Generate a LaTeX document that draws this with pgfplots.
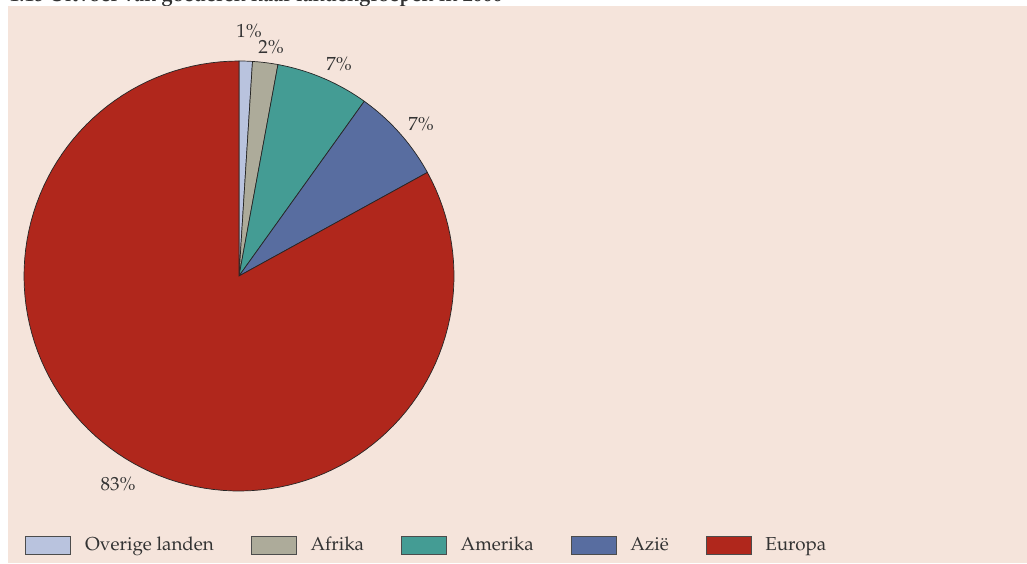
\documentclass[border=0pt]{standalone}
\usepackage[T1]{fontenc}
\usepackage{mathpazo}
\usepackage{pgfplots}
\usepackage{pgfplotstable}
\pgfplotsset{compat=1.18}
\definecolor{bg}{HTML}{F5E4DB}
\definecolor{cOv}{HTML}{B9C3DE}
\definecolor{cAf}{HTML}{ADAB9A}
\definecolor{cAm}{HTML}{449C94}
\definecolor{cAz}{HTML}{586DA0}
\definecolor{cEu}{HTML}{B0271C}
\definecolor{txt}{HTML}{333333}

\pgfplotstableread[col sep=comma]{
name,value,col
Overige landen,1.0,cOv
Afrika,1.9,cAf
Amerika,7.0,cAm
Azi\"e,7.1,cAz
Europa,83.0,cEu
}\piedata

\begin{document}
\begin{tikzpicture}[x=0.5pt,y=0.5pt]
\useasboundingbox (0,0) rectangle (1027,563);
\node[anchor=base west, inner sep=0pt, text=txt, font=\bfseries\fontsize{10}{12}\selectfont] at (9,561) {1.15 Uitvoer van goederen naar landengroepen in 2000};
\fill[bg] (8,0) rectangle (1027,557);
\begin{axis}[
  at={(0,0)}, anchor=south west,
  scale only axis, width=513.5pt, height=281.5pt,
  xmin=0, xmax=1027, ymin=0, ymax=563,
  hide axis, clip=false,
  legend columns=5,
  legend image code/.code={\draw[#1, draw=black!70, line width=0.4pt] (0pt,-4.5pt) rectangle (22.5pt,4.5pt);},
  legend style={at={(axis cs:25,18)}, anchor=west, draw=none, fill=none, inner sep=0pt,
    font=\fontsize{9.4}{11}\selectfont, text=txt,
    nodes={inner sep=0pt},
    /tikz/every odd column/.append style={column sep=7pt},
    /tikz/every even column/.append style={column sep=18.4pt}},
]
\xdef\cum{0}
\pgfplotsinvokeforeach{0,...,4}{
  \pgfplotstablegetelem{#1}{value}\of\piedata
  \pgfmathsetmacro\v{\pgfplotsretval}
  \pgfplotstablegetelem{#1}{col}\of\piedata
  \edef\c{\pgfplotsretval}
  \pgfplotstablegetelem{#1}{name}\of\piedata
  \let\n\pgfplotsretval
  \pgfmathsetmacro\a{90-3.6*\cum}
  \pgfmathsetmacro\b{90-3.6*(\cum+\v)}
  \pgfmathsetmacro\newcum{\cum+\v}
  \xdef\cum{\newcum}
  \edef\temp{\noexpand\addplot[fill=\c, draw=black!85, line width=0.35pt, domain=\b:\a, samples=120]
     ({239+215*cos(x)},{287+215*sin(x)}) -- (axis cs:239,287) -- cycle;}
  \temp
  \expandafter\addlegendentry\expandafter{\n}
}
\begin{scope}[font=\fontsize{9.5}{11}\selectfont, text=txt]
\node at (axis cs:249,532) {1\%};
\node at (axis cs:271,516) {2\%};
\node at (axis cs:339,499) {7\%};
\node at (axis cs:421,439) {7\%};
\node at (axis cs:118,79) {83\%};
\end{scope}
\end{axis}
\end{tikzpicture}
\end{document}
